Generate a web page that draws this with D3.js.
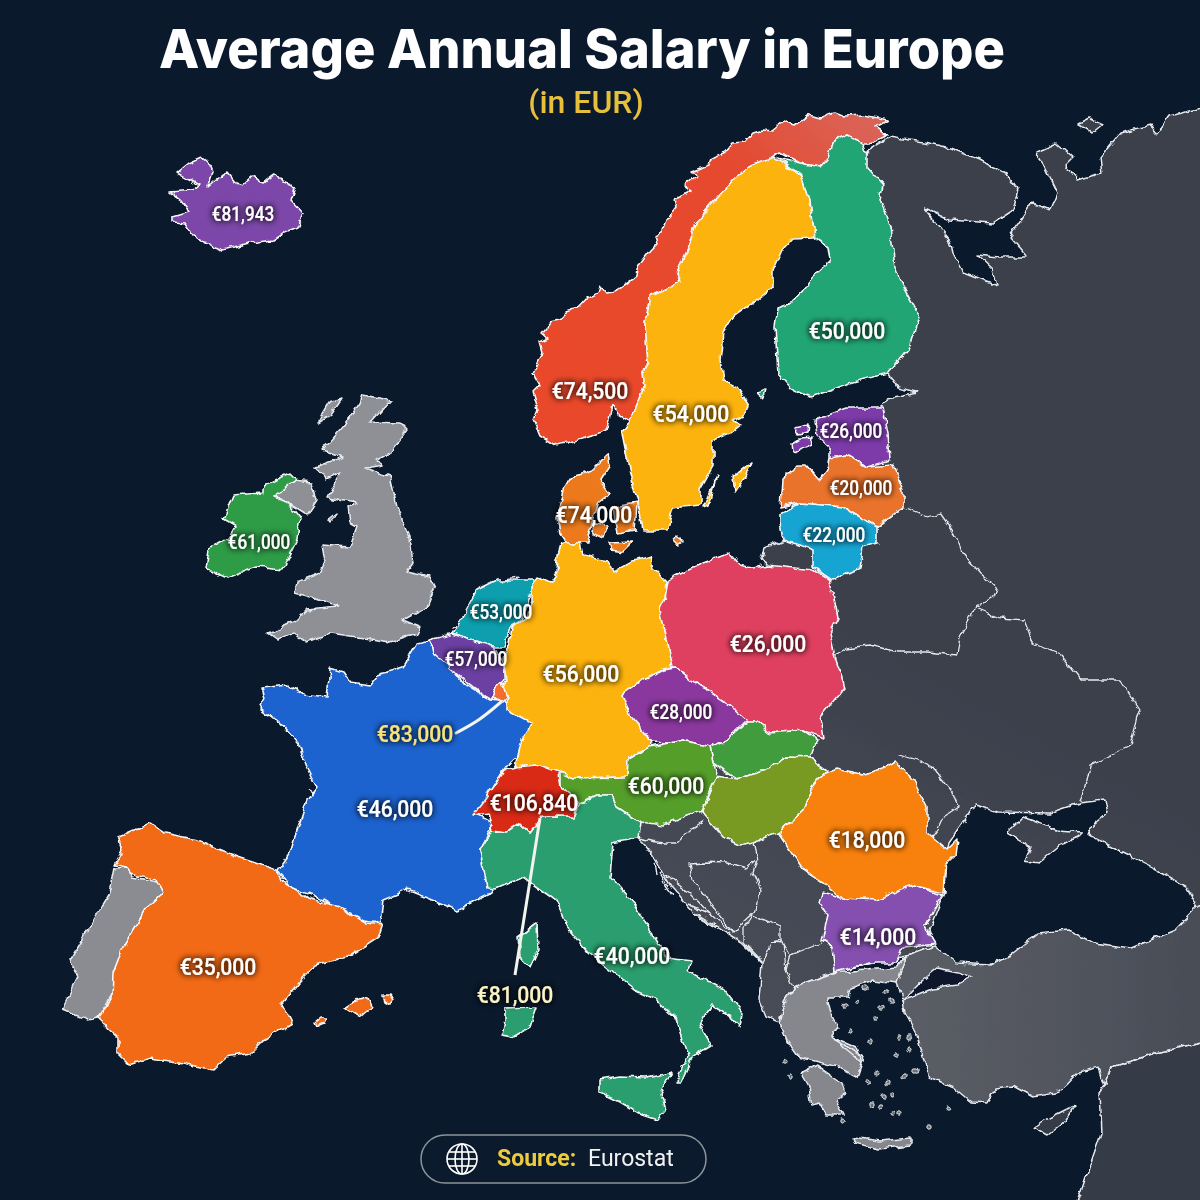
<!DOCTYPE html>
<html><head><meta charset="utf-8">
<style>html,body{margin:0;padding:0;background:#0a192b}svg{display:block}</style>
<script src="https://cdn.jsdelivr.net/npm/d3@7"></script></head><body>
<svg id="chart" width="1200" height="1200"></svg>
<script>
// ---------- values ----------
const countries=["Iceland","Norway","Sweden","Finland","Estonia","Latvia","Lithuania","Denmark","Ireland","Netherlands","Belgium","Germany","Poland","Luxembourg","Austria","Switzerland","France","Romania","Bulgaria","Spain","Italy","Czechia","Malta"];
const salaries=[81943,74500,54000,50000,26000,20000,22000,74000,61000,53000,57000,56000,26000,83000,60000,106840,46000,18000,14000,35000,40000,28000,81000];
const titleText="Average Annual Salary in Europe", subtitleText="(in EUR)", sourceKey="Source:", sourceName="Eurostat";
// label anchor per country (same order as countries): x, y, large?
const labelAnchors=[[243,214,0],[590,390,1],[691,413,1],[847,330,1],[851,431,0],[861,488,0],[834,535,0],[594,514,1],[259,542,0],[501,612,0],[476,659,0],[581,673,1],[768,643,1],[415,733,1],[666,785,1],[534,802,1],[395,808,1],[867,839,1],[878,936,1],[218,966,1],[632,955,1],[681,712,0],[515,994,1]];
// ---------- outlines ----------
const iceland=[[170,192],[193,190],[199,185],[177,173],[183,168],[189,163],[202,157],[209,163],[212,170],[208,187],[220,177],[229,173],[236,182],[243,185],[252,177],[262,183],[275,173],[283,183],[294,188],[290,200],[302,213],[298,227],[285,232],[273,240],[250,243],[223,250],[205,243],[193,235],[185,223],[172,222],[172,217],[189,212],[181,200]];
const norway=[[555,445],[540,436],[533,420],[537,410],[532,393],[540,385],[533,373],[542,353],[539,342],[548,338],[542,333],[550,323],[562,320],[566,312],[577,308],[586,298],[598,292],[600,286],[606,293],[615,292],[636,277],[637,270],[641,262],[650,250],[657,243],[655,236],[663,233],[667,220],[677,207],[675,199],[692,192],[685,187],[698,175],[690,172],[710,165],[713,157],[726,152],[733,143],[745,142],[753,133],[763,130],[772,131],[783,122],[795,126],[810,115],[820,118],[835,112],[845,116],[863,115],[888,120],[876,127],[887,135],[870,143],[863,143],[847,135],[833,142],[828,158],[820,167],[800,163],[780,152],[767,160],[748,167],[733,180],[713,203],[695,223],[687,250],[677,272],[680,282],[650,297],[645,323],[648,363],[643,373],[645,387],[630,422],[618,415],[613,405],[610,420],[607,430],[585,438],[567,443]];
const sweden=[[773,157],[802,175],[810,200],[815,237],[793,238],[782,250],[773,270],[773,287],[757,300],[733,317],[723,333],[720,360],[723,380],[737,387],[748,405],[745,415],[733,420],[740,425],[730,433],[713,440],[713,467],[700,490],[700,505],[673,508],[667,530],[643,530],[638,503],[630,473],[622,433],[630,422],[645,387],[643,373],[648,363],[645,323],[650,297],[680,282],[677,272],[687,250],[695,223],[713,203],[733,180],[748,167],[767,160]];
const gotland=[[733,477],[752,462],[745,477],[735,492]];
const oland=[[703,507],[717,475],[708,505]];
const finland=[[847,135],[863,143],[867,155],[867,167],[883,185],[880,200],[890,227],[895,267],[903,287],[920,317],[910,347],[888,373],[850,383],[810,398],[793,390],[778,373],[775,327],[778,308],[792,303],[810,280],[830,260],[828,247],[815,237],[810,200],[802,175],[777,157],[800,163],[820,167],[828,158],[833,142]];
const aland=[[757,393],[765,390],[763,398]];
const estonia=[[815,420],[847,408],[883,408],[888,433],[890,460],[867,467],[847,455],[830,458],[830,447],[817,435]];
const hiiumaa=[[795,428],[808,425],[807,433],[798,435]];
const saaremaa=[[792,443],[800,438],[813,437],[812,445],[793,453]];
const latvia=[[780,507],[782,480],[797,465],[807,465],[820,480],[828,470],[830,458],[847,455],[867,467],[893,465],[903,490],[903,507],[877,527],[843,507],[800,503]];
const lithuania=[[780,513],[800,503],[843,507],[877,527],[877,543],[863,547],[860,567],[832,580],[813,567],[813,550],[800,545],[783,540],[780,523]];
const jutland=[[608,455],[610,465],[600,480],[610,493],[598,503],[593,523],[587,533],[590,543],[567,543],[560,533],[557,517],[563,490],[572,477],[593,470]];
const zealand=[[613,507],[637,503],[635,530],[617,533]];
const funen=[[593,523],[607,527],[603,538],[592,533]];
const lolland=[[608,543],[633,542],[623,552],[610,550]];
const bornholm=[[673,541],[678,537],[683,542],[678,546]];
const germany=[[563,543],[558,560],[557,573],[550,583],[537,577],[532,583],[532,600],[527,617],[512,627],[510,643],[503,657],[505,673],[507,680],[502,687],[507,697],[507,710],[532,723],[522,740],[515,767],[537,765],[558,773],[573,778],[627,777],[628,760],[650,747],[652,742],[633,720],[622,695],[643,680],[663,670],[673,668],[668,643],[660,610],[665,600],[667,582],[653,567],[650,557],[633,562],[613,573],[607,560],[583,555],[580,543]];
const poland=[[668,580],[703,563],[730,553],[740,565],[753,568],[767,565],[813,570],[830,580],[838,617],[830,633],[835,657],[845,687],[820,717],[823,738],[803,730],[770,733],[757,722],[747,722],[727,703],[710,692],[700,687],[677,668],[673,668],[668,643],[660,610],[665,600]];
const czechia=[[622,695],[643,680],[663,670],[677,668],[700,687],[710,692],[727,703],[747,720],[727,740],[710,747],[683,740],[670,743],[652,742],[633,720]];
const slovakia=[[747,722],[757,722],[770,733],[803,730],[817,740],[810,758],[783,757],[770,768],[737,780],[713,763],[710,747],[727,740]];
const austria=[[560,773],[573,778],[627,777],[628,760],[650,747],[670,743],[683,740],[710,747],[713,763],[717,777],[702,810],[683,817],[663,825],[640,822],[617,807],[612,795],[597,795],[580,803],[560,787]];
const hungary=[[717,777],[737,780],[770,768],[783,757],[810,758],[827,770],[810,790],[803,810],[778,833],[753,842],[740,845],[723,837],[702,812]];
const switzerland=[[473,815],[487,797],[505,770],[515,767],[537,765],[558,773],[560,787],[578,803],[573,817],[542,817],[530,833],[520,823],[507,832],[492,830],[488,813]];
const italyMain=[[492,830],[507,832],[520,823],[530,833],[542,817],[573,817],[580,803],[597,795],[612,795],[617,807],[640,822],[638,838],[613,843],[610,877],[637,907],[650,930],[667,957],[692,960],[688,970],[724,990],[742,1013],[740,1027],[731,1017],[712,1005],[700,1027],[712,1045],[692,1057],[681,1082],[675,1082],[688,1057],[675,1017],[657,1000],[635,990],[620,978],[588,953],[567,927],[555,900],[523,877],[497,888],[487,887],[480,850]];
const sicily=[[600,1080],[620,1077],[646,1078],[672,1072],[661,1093],[666,1110],[657,1120],[642,1115],[620,1102],[600,1092]];
const sardinia=[[505,1008],[537,1007],[530,1027],[513,1037],[502,1035],[505,1020]];
const corsica=[[518,937],[537,923],[538,950],[530,968],[520,957]];
const france=[[262,688],[287,685],[303,695],[327,698],[330,668],[343,672],[350,682],[370,685],[378,675],[403,667],[417,643],[430,640],[433,653],[453,670],[463,683],[490,700],[505,702],[533,723],[517,757],[505,768],[477,815],[492,823],[490,830],[480,850],[487,877],[497,880],[492,892],[457,910],[437,902],[407,890],[383,900],[380,923],[357,920],[323,900],[290,887],[278,870],[290,853],[307,800],[317,787],[307,767],[298,743],[280,723],[260,708],[265,698]];
const spainMain=[[118,837],[150,823],[165,833],[197,840],[237,857],[277,870],[283,882],[307,898],[340,907],[367,923],[382,925],[378,937],[347,957],[315,965],[303,977],[282,1003],[292,1023],[263,1040],[250,1053],[227,1057],[213,1070],[183,1063],[150,1058],[130,1065],[118,1053],[118,1037],[98,1018],[112,998],[113,973],[123,947],[147,907],[163,892],[157,880],[130,873],[128,867],[115,865],[122,850]];
const mallorca=[[345,1007],[356,1000],[367,997],[372,1007],[360,1017]];
const menorca=[[383,995],[390,995],[393,1000],[390,1004],[385,1001]];
const ibiza=[[315,1022],[321,1017],[327,1017],[324,1023],[317,1026]];
const belgium=[[430,640],[453,633],[467,638],[493,647],[505,663],[505,680],[497,687],[492,700],[480,693],[467,683],[450,668],[433,653]];
const luxembourg=[[497,687],[503,683],[508,697],[502,703],[493,698]];
const netherlands=[[532,580],[533,590],[520,620],[510,627],[505,647],[493,647],[467,638],[453,633],[463,617],[477,590],[497,580]];
const ireland=[[223,520],[233,495],[263,493],[263,487],[290,473],[297,480],[273,497],[288,503],[300,518],[297,540],[282,570],[257,567],[227,578],[205,568],[208,550],[228,538],[235,527]];
// grey context land
const portugal=[[115,868],[128,867],[132,877],[158,882],[163,892],[147,907],[137,930],[123,947],[122,960],[113,993],[98,1018],[87,1020],[62,1010],[78,977],[70,960],[110,893]];
const britain=[[363,395],[390,400],[370,422],[400,423],[407,430],[390,452],[375,460],[383,465],[365,468],[390,477],[397,507],[410,537],[413,563],[407,572],[430,577],[435,587],[427,607],[403,620],[420,627],[417,633],[390,642],[357,637],[330,633],[307,642],[293,632],[278,640],[268,633],[297,620],[307,610],[337,607],[310,597],[295,593],[297,582],[320,573],[325,562],[322,545],[350,547],[357,527],[350,523],[348,507],[357,502],[328,497],[340,473],[325,480],[315,467],[343,457],[323,450],[343,427],[360,403]];
const northernIreland=[[273,497],[295,480],[312,482],[317,500],[307,515],[288,503]];
const isleOfMan=[[327,520],[336,513],[334,518],[329,523]];
const hebrides=[[318,422],[330,402],[342,398],[330,415]];
const easternLand=[[863,160],[872,147],[890,137],[930,143],[950,148],[980,160],[1007,175],[1018,190],[1013,210],[993,223],[950,220],[923,207],[950,240],[953,253],[963,272],[997,285],[993,270],[977,255],[1000,257],[1027,257],[1010,237],[1033,203],[1050,210],[1057,193],[1047,173],[1037,152],[1057,143],[1073,157],[1065,165],[1077,180],[1102,173],[1100,157],[1120,133],[1150,125],[1157,133],[1170,115],[1206,106],[1206,905],[1197,907],[1186,887],[1153,868],[1116,850],[1088,835],[1090,828],[1108,813],[1105,800],[1079,803],[1049,813],[997,812],[975,805],[949,843],[946,857],[944,893],[929,930],[934,945],[907,955],[835,972],[794,987],[785,1000],[779,1022],[766,1017],[759,1000],[762,963],[742,943],[694,913],[672,888],[663,873],[653,855],[643,843],[637,838],[640,815],[700,770],[770,570],[762,558],[765,548],[783,540],[800,520],[820,500],[850,430],[885,403],[888,398],[917,392],[897,387],[888,373],[880,300]];
const novayaZemlya=[[1078,124],[1090,118],[1103,124],[1092,133]];
const crimea=[[1007,833],[1023,817],[1057,830],[1082,832],[1079,838],[1060,845],[1038,863],[1025,860],[1031,847]];
const turkey=[[907,955],[934,945],[957,963],[990,965],[1012,953],[1038,933],[1068,930],[1094,943],[1131,948],[1175,930],[1197,907],[1206,903],[1206,1041],[1156,1053],[1112,1067],[1105,1085],[1099,1067],[1079,1072],[1060,1092],[1034,1097],[1012,1085],[997,1087],[986,1103],[971,1102],[953,1087],[929,1077],[916,1033],[905,1013],[903,1000],[897,983],[897,967]];
const marmara=[[923,980],[938,968],[958,972],[973,977],[958,985],[934,988],[912,997],[903,1000]];
const middleEast=[[1206,1041],[1156,1053],[1112,1067],[1105,1085],[1099,1093],[1101,1133],[1076,1206],[1206,1206]];
const greeceMain=[[794,987],[833,973],[897,967],[907,955],[897,983],[873,980],[851,988],[849,997],[827,997],[831,1013],[838,1027],[831,1037],[864,1057],[857,1077],[838,1067],[798,1057],[786,1040],[779,1023],[785,1000]];
const peloponnese=[[801,1073],[816,1065],[842,1083],[846,1093],[836,1100],[844,1115],[827,1115],[820,1103],[812,1105],[809,1087]];
const crete=[[853,1137],[880,1141],[910,1138],[910,1145],[879,1149],[855,1143]];
const euboea=[[836,1038],[857,1047],[862,1063],[846,1050]];
const cyprus=[[1034,1128],[1049,1118],[1075,1105],[1064,1122],[1047,1135]];
const aegeanIslets=[[866,988],[886,993],[892,1001],[881,1008],[857,1002],[844,1007],[899,1037],[909,1037],[897,1055],[909,1050],[916,1071],[905,1075],[877,1074],[892,1095],[883,1096],[872,1105],[947,1108],[929,1127],[841,1121],[790,1077],[785,1062],[875,1020],[870,1042],[851,1032],[888,1083],[868,1082],[892,1113],[899,1113],[881,1107]];
const borderLines=[
 [[905,508],[927,517],[940,513],[957,537],[963,553],[980,573],[997,587],[993,597],[975,608],[1000,618],[1025,620],[1035,645],[1060,655],[1080,680],[1120,680],[1140,710],[1130,745],[1090,765],[1085,790],[1079,803]],
 [[835,655],[847,648],[870,645],[897,652],[927,652],[957,655],[960,637],[975,608]],
 [[900,755],[917,760],[933,767],[943,780],[953,793],[958,807],[943,817],[937,830],[930,840]],
 [[638,838],[663,843],[677,843],[690,830],[703,822]],
 [[757,860],[747,868],[727,863],[703,862],[690,863],[693,880],[710,903],[733,933],[743,923],[757,910],[760,890],[753,873],[757,860],[753,842]],
 [[753,915],[744,928],[744,943],[762,962],[772,942],[781,940],[781,927],[753,915]],
 [[772,942],[783,943],[786,970],[794,987]],
 [[790,955],[822,943]],[[786,970],[790,955]],[[781,940],[790,955]],
 [[663,873],[690,893],[710,914],[733,933]]
];
const coastStrokes=[[[655,862],[657,875]],[[662,880],[672,895]],[[690,905],[712,915]],[[695,912],[716,925]],[[703,920],[722,930]],[[660,872],[668,886]],[[488,585],[510,579]],[[505,579],[520,577]],[[452,628],[464,624]],[[454,634],[466,630]],[[308,790],[316,796],[318,812]]];
const luxLeader=[[501,702],[480,720],[456,733]];
const swissLeader=[[540,818],[515,975]];
// shapes per coloured country
const romania=[[825,773],[837,768],[863,775],[897,762],[913,780],[927,807],[927,833],[947,850],[957,840],[955,855],[945,865],[943,893],[913,885],[877,900],[840,898],[823,883],[803,870],[778,833],[803,810],[810,790]];
const bulgaria=[[823,893],[840,898],[877,900],[913,885],[942,895],[925,927],[935,943],[903,947],[897,963],[870,963],[835,972],[832,947],[822,940],[828,917],[820,903]];
const shapes={Iceland:[iceland],Norway:[norway],Sweden:[sweden,gotland,oland],Finland:[finland,aland],Estonia:[estonia,hiiumaa,saaremaa],Latvia:[latvia],Lithuania:[lithuania],Denmark:[jutland,zealand,funen,lolland,bornholm],Ireland:[ireland],Netherlands:[netherlands],Belgium:[belgium],Germany:[germany],Poland:[poland],Luxembourg:[luxembourg],Austria:[austria],Slovakia:[slovakia],Hungary:[hungary],Switzerland:[switzerland],France:[france],Romania:[romania],Bulgaria:[bulgaria],Spain:[spainMain,mallorca,menorca,ibiza],Italy:[italyMain,sicily,sardinia,corsica],Czechia:[czechia]};
const fills={Iceland:"#7b47a8",Norway:"url(#norwayFill)",Sweden:"#fdb30d",Finland:"#22a574",Estonia:"#7b3ba9",Latvia:"#e9732a",Lithuania:"#12a4d2",Denmark:"#ec7a1a",Ireland:"#2e9b46",Netherlands:"#0f9fae",Belgium:"#6c3fa2",Germany:"#fcb30e",Poland:"#e0405f",Luxembourg:"#f46c2d",Austria:"#559e2b",Slovakia:"#3f9c3c",Hungary:"#789a24",Switzerland:"#d92b17",France:"#1f63cf",Romania:"#f8810b",Bulgaria:"#8450ae",Spain:"#f26b12",Italy:"#2a9e6e",Czechia:"#8a389e"};
const drawOrder=["Iceland","Ireland","Norway","Sweden","Finland","Estonia","Latvia","Lithuania","Denmark","Netherlands","Belgium","France","Germany","Luxembourg","Poland","Czechia","Slovakia","Hungary","Austria","Italy","Switzerland","Romania","Bulgaria","Spain"];

// ---------- drawing ----------
const svg=d3.select("#chart");
const path=d3.geoPath(d3.geoIdentity());
const closeRing=r=>[...r,r[0]];
const feature=rings=>({type:"MultiPolygon",coordinates:rings.map(r=>[closeRing(r)])});
const line=d3.line();
const defs=svg.append("defs");
const nf=defs.append("linearGradient").attr("id","norwayFill").attr("gradientUnits","userSpaceOnUse").attr("x1",880).attr("y1",120).attr("x2",600).attr("y2",400);
nf.append("stop").attr("offset",0).attr("stop-color","#d9655a");
nf.append("stop").attr("offset",.35).attr("stop-color","#e5492f");
nf.append("stop").attr("offset",1).attr("stop-color","#e9492a");
const eg=defs.append("linearGradient").attr("id","eastFill").attr("gradientUnits","userSpaceOnUse").attr("x1",1200).attr("y1",100).attr("x2",700).attr("y2",1000);
eg.append("stop").attr("offset",0).attr("stop-color","#3b404b");
eg.append("stop").attr("offset",.6).attr("stop-color","#3b404c");
eg.append("stop").attr("offset",1).attr("stop-color","#494d57");
const tg=defs.append("linearGradient").attr("id","turkeyFill").attr("gradientUnits","userSpaceOnUse").attr("x1",920).attr("y1",1000).attr("x2",1200).attr("y2",1000);
tg.append("stop").attr("offset",0).attr("stop-color","#5a5d65");
tg.append("stop").attr("offset",1).attr("stop-color","#494d57");
const sh=defs.append("filter").attr("id","halo").attr("filterUnits","userSpaceOnUse").attr("x",0).attr("y",0).attr("width",1200).attr("height",1200);
sh.append("feGaussianBlur").attr("in","SourceAlpha").attr("stdDeviation",3.2).attr("result","b");
sh.append("feFlood").attr("flood-color","#000").attr("flood-opacity",.8).attr("result","c");
sh.append("feComposite").attr("in","c").attr("in2","b").attr("operator","in").attr("result","s");
const m=sh.append("feMerge");m.append("feMergeNode").attr("in","s");m.append("feMergeNode").attr("in","s");m.append("feMergeNode").attr("in","SourceGraphic");
// rough hand-drawn coastline wobble for the whole map layer
const rough=defs.append("filter").attr("id","rough").attr("filterUnits","userSpaceOnUse").attr("x",-10).attr("y",-10).attr("width",1225).attr("height",1225);
rough.append("feTurbulence").attr("type","fractalNoise").attr("baseFrequency",.085).attr("numOctaves",3).attr("seed",4).attr("result","n");
rough.append("feDisplacementMap").attr("in","SourceGraphic").attr("in2","n").attr("scale",7).attr("xChannelSelector","R").attr("yChannelSelector","G").attr("result","d");
rough.append("feGaussianBlur").attr("in","d").attr("stdDeviation",.35);

svg.append("rect").attr("width",1200).attr("height",1200).attr("fill","#0a192b");

const map=svg.append("g").attr("filter","url(#rough)");
const coast="#e6eaee";
const grey=[[[easternLand,novayaZemlya,crimea],"url(#eastFill)"],[[middleEast,cyprus],"#363b47"],[[turkey],"url(#turkeyFill)"],[[marmara],"#0a192b"],[[britain,northernIreland,isleOfMan,hebrides],"#8e9095"],[[portugal],"#8a8c91"],[[greeceMain,peloponnese,crete,euboea],"#85878c"]];
map.append("g").selectAll("path").data(grey).join("path")
  .attr("d",d=>path(feature(d[0]))).attr("fill",d=>d[1]).attr("stroke",coast).attr("stroke-width",1.5).attr("stroke-linejoin","round");
map.append("g").selectAll("path").data(borderLines).join("path")
  .attr("d",d=>line(d)).attr("fill","none").attr("stroke",coast).attr("stroke-width",1.3).attr("stroke-linejoin","round");
map.append("g").selectAll("path").data(coastStrokes).join("path")
  .attr("d",d=>line(d)).attr("fill","none").attr("stroke",coast).attr("stroke-width",1.4);
map.append("g").selectAll("circle").data(aegeanIslets).join("circle")
  .attr("cx",d=>d[0]).attr("cy",d=>d[1]).attr("r",2.2).attr("fill","#6b6e75").attr("stroke",coast).attr("stroke-width",1);
map.append("g").selectAll("path").data(drawOrder).join("path")
  .attr("d",d=>path(feature(shapes[d]))).attr("fill",d=>fills[d]).attr("stroke","#f4f6f8").attr("stroke-width",1.6).attr("stroke-linejoin","round");

// leaders
svg.append("path").attr("d",d3.line().curve(d3.curveBasis)(luxLeader)).attr("fill","none").attr("stroke","#f6f6f0").attr("stroke-width",3).attr("stroke-linecap","round");
svg.append("path").attr("d",line(swissLeader)).attr("fill","none").attr("stroke","#f4f4ee").attr("stroke-width",3);

// salary labels
const fmt=v=>"€"+d3.format(",")(v);
const labels=countries.map((c,i)=>({c,v:salaries[i],x:labelAnchors[i][0],y:labelAnchors[i][1],big:labelAnchors[i][2]}));
svg.append("g").attr("filter","url(#halo)").selectAll("text").data(labels).join("text")
  .text(d=>fmt(d.v))
  .attr("transform",d=>`translate(${d.x},${d.y}) scale(.88,1)`)
  .attr("text-anchor","middle").attr("dy","0.36em")
  .attr("font-family","Roboto, sans-serif").attr("font-weight",500)
  .attr("font-size",d=>d.big?24:19.5)
  .attr("fill",d=>d.c==="Luxembourg"?"#f8e27a":d.c==="Malta"?"#fbf3c4":"#fff");

// heading
svg.append("text").text(titleText).attr("x",582).attr("y",68).attr("text-anchor","middle")
  .attr("font-family","Inter, sans-serif").attr("font-weight",800).attr("font-size",54).attr("fill","#fff")
  .attr("textLength",846).attr("lengthAdjust","spacingAndGlyphs");
svg.append("text").text(subtitleText).attr("x",586).attr("y",113).attr("text-anchor","middle")
  .attr("font-family","Roboto, sans-serif").attr("font-weight",500).attr("font-size",32).attr("fill","#e8bf3a");

// source pill
svg.append("rect").attr("x",421).attr("y",1135).attr("width",285).attr("height",48).attr("rx",24).attr("fill","#0b1a2c").attr("stroke","#8d949c").attr("stroke-width",1.5);
const globe=svg.append("g").attr("transform","translate(462,1159)").attr("fill","none").attr("stroke","#fff").attr("stroke-width",1.6);
globe.append("circle").attr("r",15);
globe.append("ellipse").attr("rx",7).attr("ry",15);
globe.append("line").attr("y1",-15).attr("y2",15);
globe.append("line").attr("x1",-15).attr("x2",15);
globe.append("line").attr("x1",-13).attr("x2",13).attr("y1",-7).attr("y2",-7);
globe.append("line").attr("x1",-13).attr("x2",13).attr("y1",7).attr("y2",7);
svg.append("text").text(sourceKey).attr("x",497).attr("y",1166).attr("font-family","Roboto, sans-serif").attr("font-weight",700).attr("font-size",23).attr("fill","#eccb3f");
svg.append("text").text(sourceName).attr("x",588).attr("y",1166).attr("font-family","Roboto, sans-serif").attr("font-weight",400).attr("font-size",23).attr("fill","#f2f2f2");
</script></body></html>
